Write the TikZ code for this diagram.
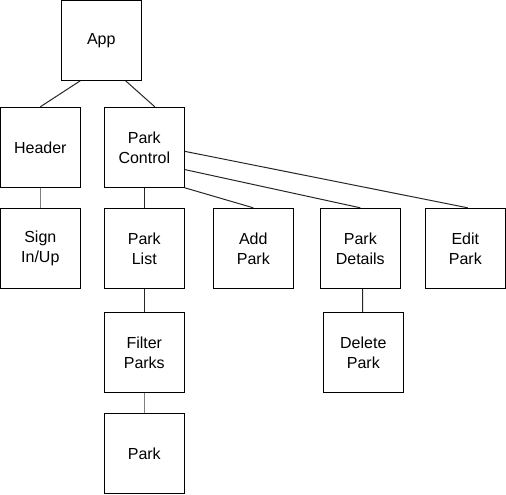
\documentclass[tikz,border=0pt]{standalone}
\usepackage{fontspec}
\setmainfont{Liberation Sans}
\usetikzlibrary{calc}

\tikzset{
  comp/.style={draw, line width=0.75pt, minimum width=60pt, minimum height=60pt, inner sep=0pt, align=center, font=\fontsize{12}{15}\selectfont},
  link/.style={line width=0.75pt, color=black!85},
  faintlink/.style={line width=0.75pt, color=black!50}
}

\begin{document}
\begin{tikzpicture}[x=0.75pt,y=0.75pt,yscale=-1,xscale=1]
                \useasboundingbox (0,0) rectangle (506,494);
                % components
                \node (app) at (101.3,40.3) [comp] {App};
                \node (header) at (40.3,147.3) [comp] {Header};
                \node (control) at (144.3,147.3) [comp] {Park\\Control};
                \node (sign) at (40.3,248.3) [comp] {Sign\\In/Up};
                \node (list) at (144.3,248.3) [comp] {Park\\List};
                \node (add) at (253.3,248.3) [comp] {Add\\Park};
                \node (details) at (360.3,248.3) [comp] {Park\\Details};
                \node (edit) at (465.3,248.3) [comp] {Edit\\Park};
                \node (filter) at (144.3,352.3) [comp] {Filter\\Parks};
                \node (delete) at (363.3,352.3) [comp] {Delete\\Park};
                \node (park) at (144.3,453.3) [comp] {Park};
                % connectors
                \draw [link] ($(app.south west)!0.24!(app.south east)$) -- (header.north);
                \draw [link] ($(app.south west)!0.8!(app.south east)$) -- ($(control.north west)!0.63!(control.north east)$);
                \draw [faintlink] (header.south) -- (sign.north);
                \draw [link] (control.south) -- (list.north);
                \draw [link] (control.south east) -- (add.north);
                \draw [link] ($(control.north east)!0.775!(control.south east)$) -- (details.north);
                \draw [link] ($(control.north east)!0.55!(control.south east)$) -- ($(edit.north west)!0.53!(edit.north east)$);
                \draw [link] (list.south) -- (filter.north);
                \draw [link] ($(details.south west)!0.53!(details.south east)$) -- ($(delete.north west)!0.49!(delete.north east)$);
                \draw [faintlink] (filter.south) -- (park.north);
\end{tikzpicture}
\end{document}
